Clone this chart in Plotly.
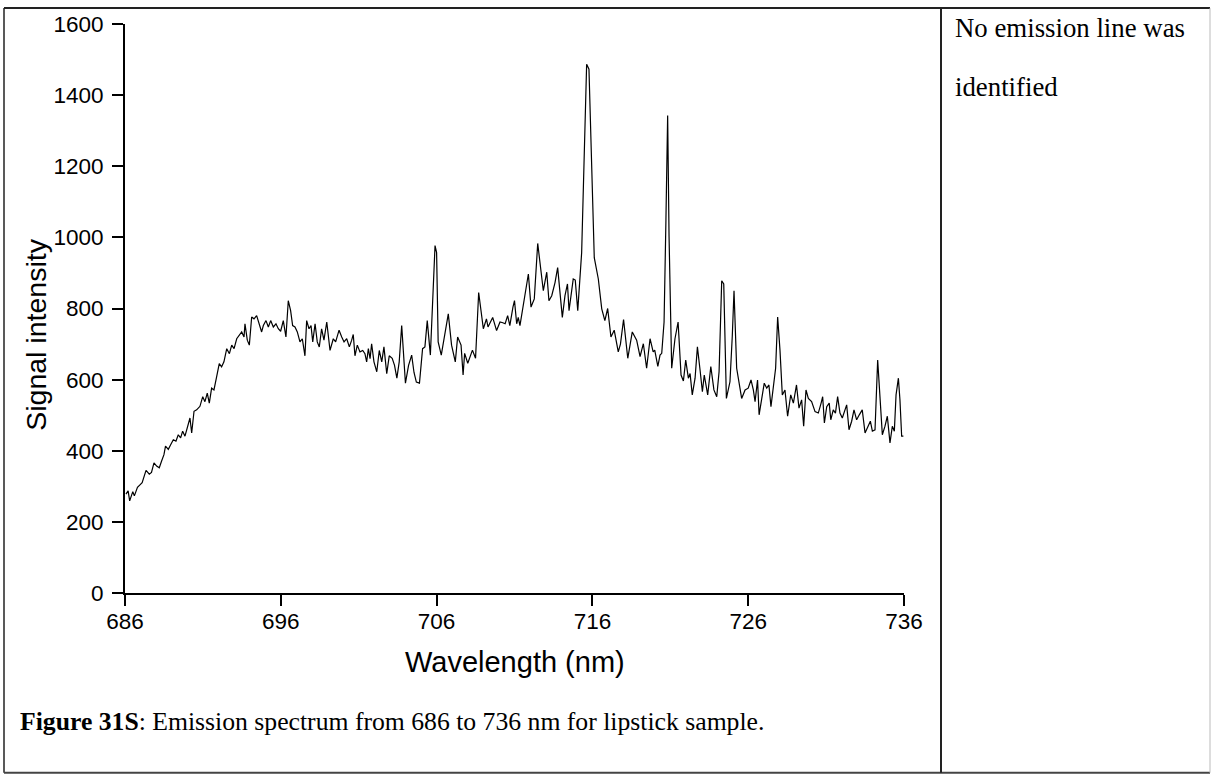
import plotly.graph_objects as go

# ---------------- data ----------------
wavelength = [
    686.06, 686.2, 686.3, 686.5, 686.6, 686.8, 686.96, 687.1, 687.35, 687.56, 687.7, 687.86,
    688.03, 688.2, 688.35, 688.5, 688.6, 688.78, 688.93, 689.1, 689.27, 689.42, 689.57, 689.7,
    689.85, 690.02, 690.17, 690.28, 690.43, 690.6, 690.81, 690.99, 691.13, 691.28, 691.41, 691.56,
    691.71, 691.88, 692.05, 692.2, 692.35, 692.53, 692.7, 692.85, 693.0, 693.17, 693.34, 693.49,
    693.64, 693.7, 693.85, 693.98, 694.13, 694.28, 694.45, 694.62, 694.77, 694.88, 695.05, 695.2,
    695.35, 695.52, 695.69, 695.84, 695.99, 696.16, 696.33, 696.48, 696.63, 696.76, 696.91, 697.06,
    697.23, 697.38, 697.55, 697.66, 697.81, 697.94, 698.05, 698.2, 698.34, 698.47, 698.62, 698.77,
    698.95, 699.16, 699.37, 699.52, 699.74, 699.91, 700.06, 700.23, 700.4, 700.55, 700.65, 700.76,
    700.91, 701.08, 701.26, 701.4, 701.51, 701.62, 701.73, 701.83, 701.98, 702.16, 702.32, 702.48,
    702.62, 702.8, 702.96,
    703.15, 703.3, 703.45, 703.6, 703.76, 703.9, 704.0, 704.2, 704.4, 704.55, 704.7, 704.9,
    705.1, 705.25, 705.4, 705.6, 705.9, 706.0, 706.1, 706.3, 706.5, 706.75, 706.96, 707.2,
    707.35, 707.57, 707.7, 707.8, 708.0, 708.3, 708.5, 708.7, 709.0, 709.2, 709.3, 709.6,
    709.85, 710.07, 710.25, 710.4, 710.56, 710.7, 710.9, 711.0, 711.14, 711.24, 711.35, 711.5,
    711.67, 711.89, 712.06, 712.27, 712.49, 712.7, 712.85, 713.07, 713.21, 713.39, 713.6, 713.77,
    713.9, 714.07, 714.24, 714.4, 714.5, 714.77, 714.9, 715.06, 715.31, 715.48, 715.63, 715.78,
    715.95, 716.12, 716.38, 716.6, 716.8, 716.98, 717.19, 717.4, 717.66, 717.8, 718.0, 718.27,
    718.56, 718.84, 719.06, 719.27, 719.48,
    719.7, 719.9, 720.0, 720.2, 720.34, 720.45, 720.6, 720.72, 720.83, 720.92, 721.09, 721.3,
    721.5, 721.69, 721.84, 721.99, 722.16, 722.27, 722.41, 722.59, 722.74, 722.91, 723.06, 723.18,
    723.4, 723.6, 723.8, 723.98, 724.13, 724.3, 724.43, 724.6, 724.83, 724.98, 725.09, 725.26,
    725.43, 725.58, 725.8, 726.0, 726.18, 726.33, 726.44, 726.6, 726.7, 726.82, 727.03, 727.19,
    727.33, 727.46, 727.61, 727.76, 727.89, 728.04, 728.19, 728.36, 728.53, 728.73, 728.9, 729.1,
    729.26, 729.43, 729.56, 729.71, 729.86, 730.07, 730.29, 730.5, 730.68, 730.78, 730.89, 731.04,
    731.2, 731.3, 731.46, 731.6, 731.74, 731.89, 732.04, 732.2, 732.32, 732.47, 732.64, 732.79,
    732.96, 733.13, 733.32, 733.5, 733.67, 733.84, 733.97, 734.14, 734.31, 734.46, 734.61, 734.78,
    734.93, 735.1, 735.25, 735.38, 735.49, 735.64, 735.74, 735.85, 735.96,
]

intensity = [
    278, 287, 259, 285, 273, 297, 304, 310, 345, 334, 339, 366,
    357, 352, 371, 389, 413, 404, 417, 431, 427, 445, 436, 455,
    441, 473, 492, 450, 511, 515, 525, 552, 538, 562, 534, 576,
    571, 608, 645, 636, 650, 687, 673, 697, 687, 715, 725, 734,
    720, 757, 711, 697, 776, 771, 780, 752, 734, 752, 766, 748,
    766, 748, 757, 743, 736, 766, 720, 822, 794, 752, 748, 734,
    706, 715, 667, 766, 743, 752, 706, 757, 706, 692, 743, 711,
    762, 682, 715, 706, 739, 720, 706, 715, 692, 711, 727, 667,
    697, 678, 682, 673, 650, 687, 659, 701, 650, 622, 682, 650,
    692, 617, 667,
    660, 640, 604, 650, 752, 660, 590, 640, 669, 620, 593, 590,
    687, 692, 766, 669, 977, 957, 706, 669, 725, 785, 697, 650,
    720, 697, 613, 674, 646, 683, 660, 845, 743, 771, 748, 775,
    738, 762, 760, 757, 780, 752, 804, 822, 757, 775, 752, 790,
    831, 897, 804, 827, 983, 900, 850, 902, 822, 836, 873, 915,
    850, 775, 836, 869, 794, 883, 880, 794, 957, 1227, 1487, 1473,
    1208, 943, 883, 799, 766, 800, 720, 739, 678, 700, 769, 660,
    734, 711, 665, 701, 632,
    715, 678, 683, 637, 669, 674, 762, 1050, 1343, 1003, 632, 715,
    762, 613, 596, 655, 604, 617, 557, 604, 692, 627, 566, 613,
    557, 637, 571, 552, 622, 878, 869, 547, 594, 724, 850, 632,
    585, 547, 571, 576, 599, 571, 538, 599, 501, 538, 590, 576,
    585, 524, 585, 632, 776, 683, 557, 571, 497, 557, 534, 585,
    520, 543, 469, 571, 547, 538, 510, 506, 534, 552, 478, 524,
    534, 487, 515, 506, 552, 506, 492, 510, 529, 459, 483, 515,
    487, 501, 515, 450, 469, 483, 455, 459, 655, 538, 445, 469,
    497, 422, 469, 455, 557, 604, 543, 441, 441,
]

x_ticks = [686, 696, 706, 716, 726, 736]
y_ticks = [0, 200, 400, 600, 800, 1000, 1200, 1400, 1600]

x_title = "Wavelength (nm)"
y_title = "Signal intensity"
caption = "<b>Figure 31S</b>: Emission spectrum from 686 to 736 nm for lipstick sample."
side_lines = ["No emission line was", "identified"]

# ---------------- layout geometry (pixels) ----------------
W, H = 1211, 776
PL, PR, PT, PB = 125, 904, 20, 593   # plot area edges


def px(xp):
    return (xp - PL) / (PR - PL)


def py(yp):
    return (PB - yp) / (PB - PT)


SANS = "Liberation Sans, Arial, sans-serif"
SERIF = "Liberation Serif, Times New Roman, serif"

fig = go.Figure()
fig.add_trace(go.Scatter(
    x=wavelength, y=intensity, mode="lines",
    line=dict(color="black", width=1.2),
    showlegend=False, hoverinfo="skip",
))

axis_common = dict(
    showline=True, linecolor="black", linewidth=2,
    ticks="outside", ticklen=11, tickwidth=2, tickcolor="black",
    showgrid=False, zeroline=False,
    tickfont=dict(family=SANS, size=22.5, color="black"),
)

fig.update_layout(
    width=W, height=H,
    margin=dict(l=PL, r=W - PR, t=PT, b=H - PB, pad=0),
    paper_bgcolor="white", plot_bgcolor="white",
    xaxis=dict(range=[686, 736], tickvals=x_ticks, ticklabelstandoff=-4, **axis_common),
    yaxis=dict(range=[0, 1600], tickvals=y_ticks, ticklabelstandoff=4, **axis_common),
)

# axis titles
fig.add_annotation(text=x_title, xref="paper", yref="paper", x=px(515), y=py(662),
                   xanchor="center", yanchor="middle", showarrow=False,
                   font=dict(family=SANS, size=29, color="black"))
fig.add_annotation(text=y_title, xref="paper", yref="paper", x=px(36), y=py(333),
                   xanchor="center", yanchor="middle", showarrow=False, textangle=-90,
                   font=dict(family=SANS, size=28.5, color="black"))

# caption
fig.add_annotation(text=caption, xref="paper", yref="paper", x=px(18), y=py(722),
                   xanchor="left", yanchor="middle", showarrow=False,
                   font=dict(family=SERIF, size=25.7, color="black"))

# side column text
for line, yc in zip(side_lines, [24, 83]):
    fig.add_annotation(text=line, xref="paper", yref="paper", x=px(953), y=py(yc),
                       xanchor="left", yanchor="middle", showarrow=False,
                       font=dict(family=SERIF, size=26.8, color="black"))

# table borders
borders = [
    (4, 4, 1210, 4, "#222", 2),        # top
    (4, 4, 4, 774, "#222", 1.5),       # left
    (4, 774, 1210, 774, "#444", 2),    # bottom
    (941, 4, 941, 774, "#222", 2),     # column divider
    (1210, 4, 1210, 774, "#bbb", 1),   # right
]
for x0, y0, x1, y1, c, w in borders:
    fig.add_shape(type="line", xref="paper", yref="paper",
                  x0=px(x0), y0=py(y0), x1=px(x1), y1=py(y1),
                  line=dict(color=c, width=w), layer="above")

fig.write_html("out.html")
